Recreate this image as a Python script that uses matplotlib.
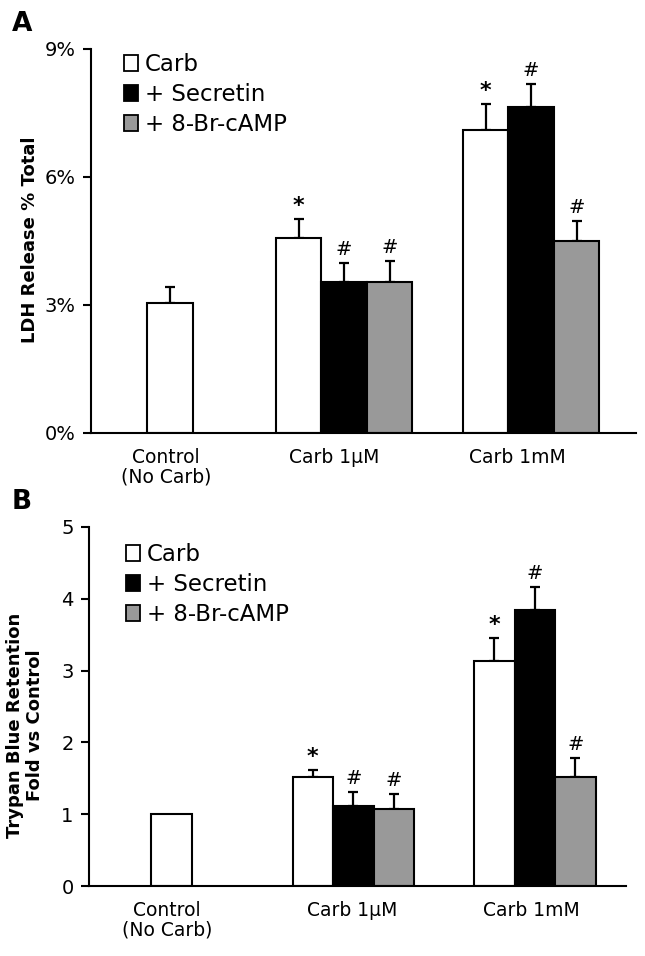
import matplotlib
matplotlib.use("Agg")
import matplotlib.pyplot as plt
from matplotlib.patches import Patch

W, H = 645, 956

# ---- data ----
groups = ["Control\n(No Carb)", "Carb 1\u03bcM", "Carb 1mM"]
series = ["Carb", "+ Secretin", "+ 8-Br-cAMP"]
colors = ["white", "black", "#999999"]

# Panel A: LDH release (% total)
ldh_control = 3.05
ldh_control_err = 0.38
ldh_vals = {"Carb": [4.58, 7.10], "+ Secretin": [3.54, 7.64], "+ 8-Br-cAMP": [3.54, 4.50]}
ldh_errs = {"Carb": [0.43, 0.61], "+ Secretin": [0.44, 0.55], "+ 8-Br-cAMP": [0.50, 0.48]}
ldh_marks = {"Carb": ["*", "*"], "+ Secretin": ["#", "#"], "+ 8-Br-cAMP": ["#", "#"]}

# Panel B: Trypan blue retention (fold vs control)
tb_control = 1.00
tb_control_err = 0.0
tb_vals = {"Carb": [1.52, 3.13], "+ Secretin": [1.12, 3.85], "+ 8-Br-cAMP": [1.07, 1.52]}
tb_errs = {"Carb": [0.09, 0.33], "+ Secretin": [0.19, 0.31], "+ 8-Br-cAMP": [0.21, 0.26]}
tb_marks = {"Carb": ["*", "*"], "+ Secretin": ["#", "#"], "+ 8-Br-cAMP": ["#", "#"]}

plt.rcParams['font.family'] = ['DejaVu Sans']

fig = plt.figure(figsize=(W / 100, H / 100), dpi=100)


def px_axes(left, right, top, bottom):
    return fig.add_axes([left / W, (H - bottom) / H, (right - left) / W, (bottom - top) / H])


def draw_panel(ax, xl, xr, ctrl_x, group_x, bw, tick_x, control, control_err,
               vals, errs, marks, ylim, yticks, yticklabels, leg_xy, ppu):
    ax.set_xlim(xl, xr)
    ax.set_ylim(*ylim)
    ekw = dict(ecolor="black", elinewidth=1.6, capsize=3.5, capthick=1.6)
    # control bar
    ax.bar(ctrl_x, control, width=bw, color="white", edgecolor="black", linewidth=1.5, zorder=2)
    if control_err > 0:
        ax.errorbar(ctrl_x, control, yerr=[[0], [control_err]], fmt="none", zorder=1, **ekw)
    for i, s in enumerate(series):
        xs = [gx + (i - 1) * bw for gx in group_x]
        ax.bar(xs, vals[s], width=bw, color=colors[i], edgecolor="black", linewidth=1.5, zorder=2)
        ax.errorbar(xs, vals[s], yerr=[[0] * len(xs), errs[s]], fmt="none", zorder=1, **ekw)
        for x, v, e, m in zip(xs, vals[s], errs[s], marks[s]):
            if m == "*":
                ax.text(x, v + e + 3 / ppu, m, ha="center", va="bottom", fontsize=16,
                        fontweight="bold")
            else:
                ax.text(x, v + e + 4 / ppu, m, ha="center", va="bottom", fontsize=14)
    ax.spines["top"].set_visible(False)
    ax.spines["right"].set_visible(False)
    ax.spines["left"].set_linewidth(1.5)
    ax.spines["bottom"].set_linewidth(1.5)
    ax.set_yticks(yticks)
    ax.set_yticklabels(yticklabels, fontsize=14)
    ax.tick_params(axis="y", direction="out", length=6, width=1.5, pad=5)
    ax.set_xticks(tick_x)
    ax.set_xticklabels(groups, fontsize=13.5, linespacing=1.0)
    ax.tick_params(axis="x", length=0, pad=11)
    handles = [Patch(facecolor=c, edgecolor="black", linewidth=1.3) for c in colors]
    ax.legend(handles, series, loc="upper left",
              bbox_to_anchor=(leg_xy[0] / W, 1 - leg_xy[1] / H), bbox_transform=fig.transFigure,
              frameon=False, fontsize=16.5, handlelength=0.6, handleheight=0.7,
              handletextpad=0.3, labelspacing=0.3, borderpad=0, borderaxespad=0)


# Panel A
axA = px_axes(91, 636, 49, 433)
draw_panel(axA, 91, 636, 170, [344, 531], 45.5, [166, 334, 517],
           ldh_control, ldh_control_err, ldh_vals, ldh_errs, ldh_marks,
           (0, 9), [0, 3, 6, 9], ["0%", "3%", "6%", "9%"], (124, 53), 384 / 9)
fig.text(30 / W, 1 - 240 / H, "LDH Release % Total", rotation=90, ha="center", va="center",
         fontsize=13, fontweight="bold")
fig.text(12 / W, 1 - 24 / H, "A", ha="left", va="center", fontsize=19, fontweight="bold")

# Panel B
axB = px_axes(89, 626, 527, 886)
draw_panel(axB, 89, 626, 171.5, [353.3, 535], 40.5, [167, 352, 531],
           tb_control, tb_control_err, tb_vals, tb_errs, tb_marks,
           (0, 5), [0, 1, 2, 3, 4, 5], ["0", "1", "2", "3", "4", "5"], (126, 543), 359 / 5)
fig.text(25 / W, 1 - 725 / H, "Trypan Blue Retention\nFold vs Control", rotation=90,
         ha="center", va="center", fontsize=13, fontweight="bold", linespacing=1.1,
         multialignment="center")
fig.text(12 / W, 1 - 502 / H, "B", ha="left", va="center", fontsize=19, fontweight="bold")

fig.savefig("out.png", dpi=100)
